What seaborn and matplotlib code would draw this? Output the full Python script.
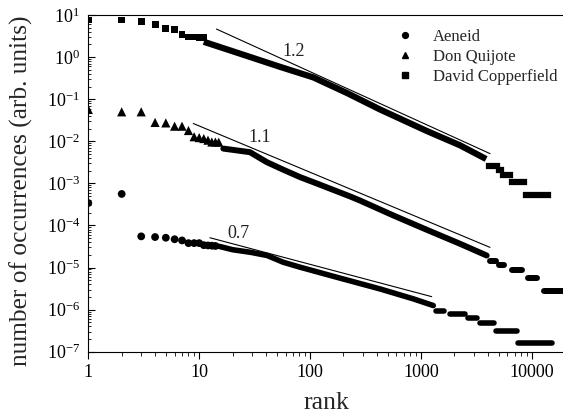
import matplotlib
matplotlib.use("Agg")
import matplotlib.pyplot as plt
import numpy as np
import pandas as pd
import seaborn as sns
from matplotlib.lines import Line2D
from matplotlib.ticker import FixedLocator, LogLocator, NullFormatter

# ---------------- data ----------------
books = ["Aeneid", "Don Quijote", "David Copperfield"]

# Aeneid: leading ranks, main body, and the integer-count plateaus of the tail
aen_head_rank = [1, 2, 3, 4, 5, 6, 7, 8, 9, 10, 11, 12, 13, 14]
aen_head_freq = [3.4e-4, 5.6e-4, 5.5e-5, 5.3e-5, 5.1e-5, 4.7e-5, 4.4e-5,
                 3.8e-5, 3.8e-5, 3.8e-5, 3.4e-5, 3.35e-5, 3.3e-5, 3.25e-5]
aen_body_rank = [15, 20, 29, 41, 57, 81, 186, 427, 853, 1290]
aen_body_freq = [3.2e-5, 2.65e-5, 2.3e-5, 1.93e-5, 1.34e-5, 1.02e-5,
                 5.6e-6, 3.1e-6, 1.8e-6, 1.25e-6]
aen_step_start = [1370, 1830, 2650, 3400, 4750, 7500]
aen_step_end = [1610, 2490, 3190, 4550, 7340, 15100]
aen_step_freq = [9.5e-7, 7.95e-7, 6.36e-7, 4.77e-7, 3.18e-7, 1.59e-7]

# Don Quijote
dq_head_rank = [1, 2, 3, 4, 5, 6, 7, 8, 9, 10, 11, 12, 13, 14, 15]
dq_head_freq = [0.057, 0.050, 0.050, 0.028, 0.0273, 0.0228, 0.0228, 0.0180,
                0.0128, 0.0122, 0.0116, 0.0106, 0.0096, 0.0096, 0.0095]
dq_body_rank = [16.5, 28.7, 40.6, 57, 81, 114, 229, 282, 562, 1125, 2250, 3910]
dq_body_freq = [6.7e-3, 5.5e-3, 3.2e-3, 2.12e-3, 1.41e-3, 1.0e-3, 4.9e-4,
                3.9e-4, 1.73e-4, 7.9e-5, 3.66e-5, 1.93e-5]
dq_step_start = [4190, 5050, 6620, 9230, 12850]
dq_step_end = [4750, 5600, 8150, 11100, 22000]
dq_step_freq = [1.415e-5, 1.13e-5, 8.5e-6, 5.66e-6, 2.83e-6]

# David Copperfield
dc_head_rank = [1, 2, 3, 4, 5, 6, 7, 8, 9, 10, 11]
dc_head_freq = [7.6, 7.6, 6.9, 6.0, 4.8, 4.55, 3.5, 3.0, 3.0, 2.95, 2.9]
dc_body_rank = [11.7, 26.8, 53.5, 107, 214, 427, 1125, 2250, 3650]
dc_body_freq = [2.19, 1.07, 0.587, 0.329, 0.141, 0.0569, 0.0176, 8.0e-3, 4.1e-3]
dc_step_start = [4100, 5000, 5480, 6640, 8850]
dc_step_end = [4840, 5250, 6350, 8490, 13960]
dc_step_freq = [2.65e-3, 2.12e-3, 1.59e-3, 1.06e-3, 5.3e-4]

# power-law guide lines: exponent, starting point, end rank
fit_exponent = [1.2, 1.1, 0.7]
fit_start_rank = [14.3, 8.85, 12.5]
fit_start_freq = [4.64, 0.0264, 5.1e-5]
fit_end_rank = [4190, 4190, 1248]
fit_label_rank = [71.6, 35.3, 22.4]
fit_label_freq = [1.39, 0.012, 6.3e-5]

x_ticks = [1, 10, 100, 1000, 10000]
x_tick_labels = ["1", "10", "100", "1000", "10000"]
y_ticks = [1e-7, 1e-6, 1e-5, 1e-4, 1e-3, 1e-2, 1e-1, 1e0, 1e1]
y_tick_labels = ["10$^{-7}$", "10$^{-6}$", "10$^{-5}$", "10$^{-4}$", "10$^{-3}$",
                 "10$^{-2}$", "10$^{-1}$", "10$^{0}$", "10$^{1}$"]

# ---------------- style ----------------
sns.set_theme(style="ticks")
plt.rcParams["font.family"] = ["Liberation Serif", "DejaVu Serif"]
plt.rcParams["mathtext.default"] = "regular"
plt.rcParams["axes.unicode_minus"] = False

W, H = 563, 418
fig = plt.figure(figsize=(W / 100, H / 100), dpi=100)
x0, x1 = 88.3, 565.3
y_top, y_bot = 15.0, 351.7
ax = fig.add_axes([x0 / W, (H - y_bot) / H, (x1 - x0) / W, (y_bot - y_top) / H])
ax.set_xscale("log")
ax.set_yscale("log")
ax.set_xlim(1, 2e4)
ax.set_ylim(1e-7, 10)

series = [
    ("Aeneid", "o", 5.6, aen_head_rank, aen_head_freq, aen_body_rank, aen_body_freq,
     aen_step_start, aen_step_end, aen_step_freq, "round", 4.0),
    ("Don Quijote", "^", 6.6, dq_head_rank, dq_head_freq, dq_body_rank, dq_body_freq,
     dq_step_start, dq_step_end, dq_step_freq, "round", 4.3),
    ("David Copperfield", "s", 5.0, dc_head_rank, dc_head_freq, dc_body_rank, dc_body_freq,
     dc_step_start, dc_step_end, dc_step_freq, "projecting", 4.5),
]

for name, mk, msize, hr, hf, br, bf, ss, se, sf, cap, lw in series:
    head = pd.DataFrame({"rank": hr, "freq": hf})
    sns.scatterplot(data=head, x="rank", y="freq", marker=mk, s=msize ** 2,
                    color="black", edgecolor="none", linewidth=0, ax=ax, legend=False,
                    zorder=3)
    body = pd.DataFrame({"rank": br, "freq": bf})
    sns.lineplot(data=body, x="rank", y="freq", color="black", linewidth=lw,
                 sort=False, estimator=None, ax=ax, legend=False,
                 solid_capstyle=cap, zorder=3)
    ax.hlines(sf, ss, se, colors="black", linewidth=lw, capstyle=cap, zorder=3)

for k, r0, f0, r1, lx, ly in zip(fit_exponent, fit_start_rank, fit_start_freq,
                                   fit_end_rank, fit_label_rank, fit_label_freq):
    f1 = f0 * (r1 / r0) ** (-k)
    ax.plot([r0, r1], [f0, f1], color="black", linewidth=0.8, zorder=4)
    ax.text(lx, ly, f"{k:.1f}", ha="center", va="center", fontsize=13, color="#222222")

# ---------------- axes ----------------
ax.xaxis.set_major_locator(FixedLocator(x_ticks))
ax.set_xticklabels(x_tick_labels)
ax.xaxis.set_minor_locator(LogLocator(base=10, subs=np.arange(2, 10), numticks=20))
ax.xaxis.set_minor_formatter(NullFormatter())
ax.yaxis.set_major_locator(FixedLocator(y_ticks))
ax.set_yticklabels(y_tick_labels)
ax.yaxis.set_minor_locator(LogLocator(base=10, subs=np.arange(2, 10), numticks=20))
ax.yaxis.set_minor_formatter(NullFormatter())

ax.tick_params(axis="x", which="major", direction="out", length=5, width=0.8,
               labelsize=13, pad=4, colors="black", top=False)
ax.tick_params(axis="x", which="minor", direction="out", length=3, width=0.7, top=False)
ax.tick_params(axis="y", which="major", direction="in", length=5, width=0.8,
               labelsize=13, pad=6, colors="black", right=False)
ax.tick_params(axis="y", which="minor", direction="in", length=2.5, width=0.7, right=False)

for side in ["left", "bottom", "top"]:
    ax.spines[side].set_color("black")
    ax.spines[side].set_linewidth(0.8)
ax.spines["right"].set_visible(False)
ax.set_facecolor("white")
fig.patch.set_facecolor("white")

ax.set_xlabel("rank", fontsize=18.5, labelpad=8)
ax.set_ylabel("number of occurrences (arb. units)", fontsize=18.3)
ax.yaxis.set_label_coords((21 - x0) / (x1 - x0), (y_bot - 191) / (y_bot - y_top))
ax.yaxis.label.set_va("center")

handles = [
    Line2D([], [], marker="o", ls="", color="black", markersize=4.2),
    Line2D([], [], marker="^", ls="", color="black", markersize=5.0),
    Line2D([], [], marker="s", ls="", color="black", markersize=4.0),
]
ax.legend(handles, books, loc="upper left", bbox_to_anchor=(396.3 / W, 1 - 29 / H),
          bbox_transform=fig.transFigure, frameon=False, fontsize=12,
          handlelength=1.0, handletextpad=1.2, borderpad=0, borderaxespad=0,
          labelspacing=0.25)

fig.savefig("out.png", dpi=100)
